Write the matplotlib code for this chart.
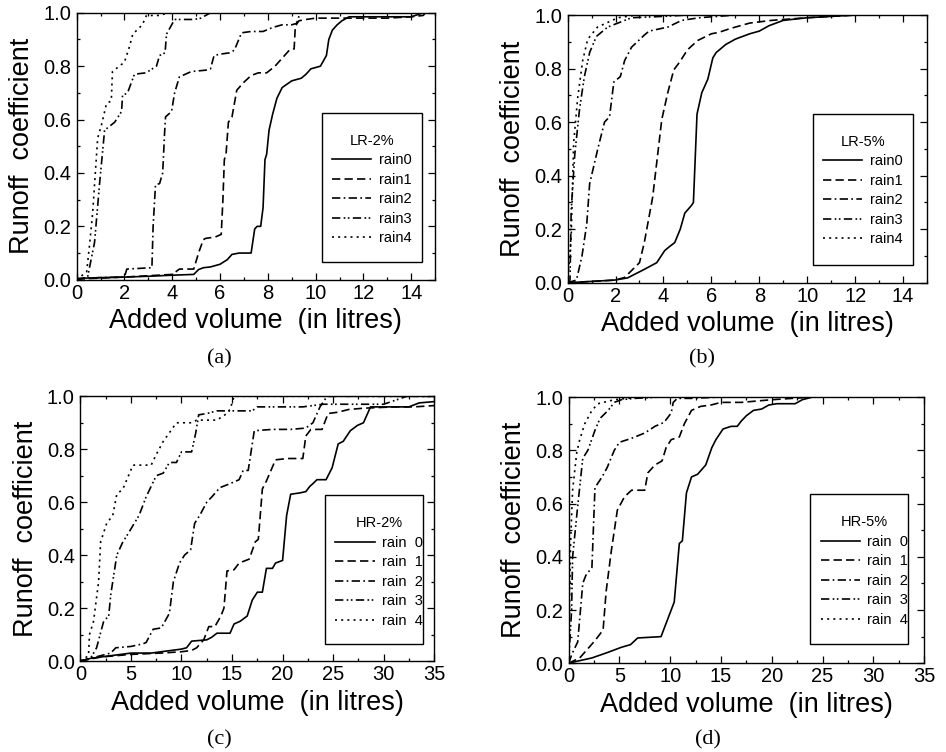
import matplotlib
matplotlib.use("Agg")
import matplotlib.pyplot as plt
from matplotlib.patches import Rectangle
from matplotlib.ticker import MultipleLocator

plt.rcParams['font.family'] = ['Liberation Sans', 'DejaVu Sans']

# ---- (a) LR-2% ----
a0_x = [0, 1, 2, 3, 4, 4.9, 5.1, 5.3, 5.6, 6.0, 6.3, 6.5, 6.8, 7.3, 7.45, 7.55, 7.7, 7.8, 7.88, 7.95, 8.05, 8.2,
        8.38, 8.6, 9.0, 9.4, 9.6, 9.8, 10.2, 10.45, 10.55, 10.7, 10.9, 11.1, 11.4, 12, 13, 14, 14.5]
a0_y = [0.005, 0.008, 0.01, 0.013, 0.017, 0.02, 0.038, 0.045, 0.048, 0.058, 0.075, 0.095, 0.1, 0.1, 0.19, 0.2,
        0.2, 0.27, 0.45, 0.47, 0.56, 0.62, 0.68, 0.72, 0.745, 0.755, 0.77, 0.79, 0.8, 0.84, 0.9, 0.935, 0.955,
        0.97, 0.985, 0.985, 0.985, 0.985, 1.0]
a1_x = [0, 1, 2, 3, 4, 4.3, 4.9, 5.1, 5.3, 5.4, 5.8, 6.05, 6.12, 6.18, 6.25, 6.35, 6.5, 6.7, 7.0, 7.3, 7.6, 7.95,
        8.3, 8.6, 8.9, 9.1, 9.15, 9.3, 9.6, 10, 11, 12, 13, 14, 14.5, 14.6]
a1_y = [0.003, 0.006, 0.01, 0.015, 0.02, 0.04, 0.04, 0.1, 0.15, 0.155, 0.16, 0.17, 0.3, 0.45, 0.47, 0.59, 0.61,
        0.71, 0.74, 0.765, 0.775, 0.775, 0.8, 0.83, 0.86, 0.865, 0.95, 0.97, 0.975, 0.98, 0.98, 0.98, 0.98,
        0.985, 0.99, 1.0]
a2_x = [0, 1, 2, 2.1, 2.5, 3.15, 3.2, 3.3, 3.47, 3.6, 3.68, 3.72, 3.97, 4.1, 4.3, 4.8, 5.4, 5.6, 5.75, 6.0,
        6.4, 6.6, 6.9, 7.3, 7.8, 8.2, 8.6, 9.0, 9.2, 9.35, 10, 15]
a2_y = [0.003, 0.008, 0.01, 0.04, 0.042, 0.045, 0.2, 0.356, 0.36, 0.4, 0.55, 0.61, 0.63, 0.70, 0.76, 0.78,
        0.785, 0.79, 0.84, 0.845, 0.85, 0.86, 0.925, 0.93, 0.93, 0.945, 0.955, 0.955, 0.96, 1.0, 1.0, 1.0]
a3_x = [0, 0.46, 0.75, 0.96, 1.17, 1.59, 1.88, 1.92, 2.13, 2.42, 2.9, 3.34, 3.47, 3.7, 3.76, 4.1, 4.9, 5.2,
        5.6, 15]
a3_y = [0.0, 0.01, 0.14, 0.36, 0.56, 0.59, 0.63, 0.69, 0.70, 0.77, 0.775, 0.80, 0.84, 0.85, 0.92, 0.975,
        0.975, 0.98, 1.0, 1.0]
a4_x = [0, 0.42, 0.54, 0.67, 0.88, 1.04, 1.25, 1.45, 1.5, 2.0, 2.2, 2.35, 2.75, 2.92, 3.5, 3.8, 15]
a4_y = [0.0, 0.03, 0.13, 0.25, 0.53, 0.58, 0.66, 0.67, 0.78, 0.815, 0.87, 0.92, 0.955, 0.99, 0.99, 1.0, 1.0]

# ---- (b) LR-5% ----
b0_x = [0, 1, 1.96, 2.5, 3.2, 3.72, 4.05, 4.25, 4.47, 4.7, 4.89, 5.18, 5.25, 5.4, 5.6, 5.85, 6.06, 6.2, 6.6,
        7.0, 7.6, 8.0, 8.4, 9.0, 10, 12, 15]
b0_y = [0.0, 0.005, 0.01, 0.018, 0.05, 0.075, 0.12, 0.135, 0.15, 0.2, 0.26, 0.29, 0.30, 0.63, 0.71, 0.76,
        0.84, 0.86, 0.89, 0.91, 0.93, 0.94, 0.96, 0.98, 0.99, 1.0, 1.0]
b1_x = [0, 1, 2.0, 2.38, 3.0, 3.2, 3.55, 3.93, 4.18, 4.43, 4.68, 5.0, 5.43, 6.0, 6.3, 6.8, 7.6, 8.5, 10, 12, 15]
b1_y = [0.0, 0.005, 0.01, 0.02, 0.075, 0.15, 0.32, 0.61, 0.71, 0.795, 0.825, 0.87, 0.905, 0.93, 0.935,
        0.95, 0.97, 0.98, 0.99, 1.0, 1.0]
b2_x = [0, 0.37, 0.6, 0.8, 0.92, 1.26, 1.54, 1.75, 1.93, 2.2, 2.38, 2.67, 3.2, 3.4, 4.18, 4.76, 5.5, 7, 15]
b2_y = [0.0, 0.01, 0.1, 0.22, 0.37, 0.50, 0.60, 0.62, 0.75, 0.77, 0.83, 0.88, 0.925, 0.94, 0.955, 0.98,
        0.99, 1.0, 1.0]
b3_x = [0, 0.1, 0.15, 0.3, 0.5, 0.7, 0.92, 1.2, 1.67, 2.67, 4, 5, 15]
b3_y = [0.0, 0.01, 0.27, 0.48, 0.65, 0.77, 0.86, 0.92, 0.955, 0.99, 0.995, 1.0, 1.0]
b4_x = [0, 0.15, 0.25, 0.42, 0.63, 0.84, 1.25, 2.1, 2.9, 15]
b4_y = [0.0, 0.17, 0.52, 0.69, 0.83, 0.91, 0.955, 0.99, 1.0, 1.0]

# ---- (c) HR-2% ----
c0_x = [0, 1, 3, 5, 7, 9, 10, 10.5, 11, 12.5, 13, 13.5, 14.8, 15.2, 15.8, 16.5, 17, 17.5, 18, 18.4, 19, 19.3,
        20.0, 20.4, 20.8, 21.7, 22.3, 22.7, 23, 23.4, 24.3, 24.9, 25.5, 26, 26.7, 27.4, 28, 28.7, 31, 32.5,
        33.5, 35]
c0_y = [0.0, 0.01, 0.02, 0.03, 0.03, 0.04, 0.045, 0.05, 0.075, 0.08, 0.09, 0.105, 0.105, 0.14, 0.15, 0.17,
        0.23, 0.26, 0.26, 0.35, 0.35, 0.37, 0.38, 0.55, 0.63, 0.635, 0.64, 0.66, 0.67, 0.685, 0.685, 0.73,
        0.82, 0.83, 0.87, 0.89, 0.9, 0.96, 0.96, 0.96, 0.975, 0.98]
c1_x = [0, 2, 5, 8, 10, 11, 11.5, 12.2, 12.7, 13.3, 13.9, 14.2, 14.5, 15.2, 15.7, 16.7, 17.3, 17.6, 18.0,
        18.4, 19.3, 20.5, 22, 22.3, 22.8, 23.9, 24.5, 25.5, 26.5, 28, 31, 33, 35]
c1_y = [0.0, 0.015, 0.025, 0.03, 0.035, 0.04, 0.05, 0.08, 0.13, 0.13, 0.17, 0.2, 0.34, 0.345, 0.37, 0.385,
        0.45, 0.46, 0.65, 0.68, 0.76, 0.765, 0.765, 0.85, 0.875, 0.875, 0.935, 0.94, 0.95, 0.955, 0.96,
        0.96, 0.965]
c2_x = [0, 2, 3, 3.5, 5, 6.2, 6.5, 7.2, 8, 8.8, 9.2, 9.8, 10.3, 10.9, 11.3, 11.8, 12.5, 13, 13.8, 14.8, 15.7,
        16.1, 16.6, 17.2, 19, 20.8, 22.3, 23, 23.7, 24.4, 35]
c2_y = [0.0, 0.02, 0.03, 0.05, 0.055, 0.065, 0.07, 0.12, 0.125, 0.18, 0.3, 0.37, 0.4, 0.42, 0.52, 0.55,
        0.6, 0.62, 0.655, 0.67, 0.685, 0.72, 0.72, 0.87, 0.875, 0.875, 0.88, 0.9, 0.96, 1.0, 1.0]
c3_x = [0, 1, 1.6, 2.3, 2.8, 3.0, 3.6, 4.2, 4.7, 5.8, 6.5, 7.5, 8.2, 8.8, 9.5, 10, 11, 11.4, 11.7, 12.5,
        13.5, 17, 17.5, 22, 24, 30, 32.3, 35]
c3_y = [0.0, 0.01, 0.05, 0.15, 0.17, 0.25, 0.4, 0.45, 0.48, 0.55, 0.62, 0.7, 0.71, 0.75, 0.75, 0.79, 0.79,
        0.86, 0.93, 0.935, 0.945, 0.945, 0.96, 0.96, 0.97, 0.97, 1.0, 1.0]
c4_x = [0, 0.8, 0.9, 1.3, 1.8, 2.0, 2.6, 3.2, 3.6, 4.2, 5.2, 7, 7.5, 8.2, 9.5, 11, 11.5, 13.5, 14.3, 14.8,
        15.2, 35]
c4_y = [0.0, 0.02, 0.1, 0.15, 0.3, 0.45, 0.52, 0.55, 0.63, 0.65, 0.74, 0.74, 0.78, 0.83, 0.9, 0.9, 0.91,
        0.91, 0.93, 0.95, 1.0, 1.0]

# ---- (d) HR-5% ----
d0_x = [0, 0.3, 2.3, 3.8, 5.2, 6.1, 6.8, 9.1, 9.6, 10.1, 10.4, 10.9, 11.2, 11.6, 12.1, 12.7, 13.5, 14.1,
        14.5, 15.2, 16, 16.6, 17, 17.5, 18.2, 19, 19.7, 20.5, 22.3, 23, 24, 35]
d0_y = [0.0, 0.003, 0.02, 0.04, 0.06, 0.07, 0.095, 0.1, 0.15, 0.2, 0.23, 0.45, 0.46, 0.64, 0.70, 0.71,
        0.745, 0.81, 0.84, 0.88, 0.89, 0.89, 0.91, 0.93, 0.95, 0.955, 0.97, 0.975, 0.975, 0.99, 1.0, 1.0]
d1_x = [0, 1.1, 2.6, 3.4, 3.7, 4.2, 4.8, 5.5, 6.2, 7.5, 7.8, 8.5, 9.2, 9.6, 10.1, 10.9, 11.4, 12.1, 13, 14,
        15, 17, 20, 24, 35]
d1_y = [0.0, 0.02, 0.085, 0.125, 0.27, 0.42, 0.575, 0.625, 0.65, 0.65, 0.715, 0.745, 0.76, 0.81, 0.84,
        0.85, 0.9, 0.95, 0.965, 0.97, 0.98, 0.98, 0.99, 1.0, 1.0]
d2_x = [0, 0.4, 0.9, 1.4, 1.7, 2.3, 2.6, 3.3, 3.8, 4.5, 5.0, 6.2, 7.5, 8.5, 9.4, 10.1, 10.3, 10.7, 12, 15, 35]
d2_y = [0.0, 0.04, 0.08, 0.30, 0.33, 0.36, 0.66, 0.7, 0.735, 0.80, 0.83, 0.845, 0.865, 0.89, 0.905, 0.94,
        0.98, 0.995, 0.995, 1.0, 1.0]
d3_x = [0, 0.3, 0.4, 0.9, 1.4, 1.9, 2.6, 3.1, 3.9, 4.5, 5.2, 6.5, 9, 35]
d3_y = [0.0, 0.2, 0.4, 0.59, 0.77, 0.80, 0.875, 0.92, 0.95, 0.98, 0.99, 0.995, 1.0, 1.0]
d4_x = [0, 0.2, 0.4, 0.8, 1.1, 1.6, 2.3, 2.9, 4.5, 7, 35]
d4_y = [0.0, 0.45, 0.65, 0.79, 0.84, 0.9, 0.95, 0.975, 0.99, 1.0, 1.0]

dash_styles = ['-', (0, (5, 2.5)), (0, (5, 2, 1, 2)), (0, (5, 2, 1, 1.5, 1, 2)), (0, (1.2, 2.5))]

panels = [
    dict(pos=[0.081, 0.628, 0.379, 0.355], xmax=15, xmaj=2, xmin=1, title='LR-2%', lab='rain{}',
         box=(0.684, 0.067, 0.28, 0.558), letter='(a)', lx=0.232, ly=0.510,
         curves=[(a0_x, a0_y), (a1_x, a1_y), (a2_x, a2_y), (a3_x, a3_y), (a4_x, a4_y)]),
    dict(pos=[0.600, 0.624, 0.380, 0.356], xmax=15, xmaj=2, xmin=1, title='LR-5%', lab='rain{}',
         box=(0.682, 0.067, 0.279, 0.564), letter='(b)', lx=0.742, ly=0.510,
         curves=[(b0_x, b0_y), (b1_x, b1_y), (b2_x, b2_y), (b3_x, b3_y), (b4_x, b4_y)]),
    dict(pos=[0.085, 0.121, 0.374, 0.352], xmax=35, xmaj=5, xmin=2.5, title='HR-2%', lab='rain  {}',
         box=(0.692, 0.064, 0.277, 0.562), letter='(c)', lx=0.232, ly=0.004,
         curves=[(c0_x, c0_y), (c1_x, c1_y), (c2_x, c2_y), (c3_x, c3_y), (c4_x, c4_y)]),
    dict(pos=[0.601, 0.118, 0.376, 0.354], xmax=35, xmaj=5, xmin=2.5, title='HR-5%', lab='rain  {}',
         box=(0.680, 0.071, 0.275, 0.564), letter='(d)', lx=0.748, ly=0.004,
         curves=[(d0_x, d0_y), (d1_x, d1_y), (d2_x, d2_y), (d3_x, d3_y), (d4_x, d4_y)]),
]

fig = plt.figure(figsize=(9.46, 7.52), dpi=100)

for p in panels:
    ax = fig.add_axes(p['pos'])
    for i, (xs, ys) in enumerate(p['curves']):
        ax.plot(xs, ys, color='black', lw=1.2, linestyle=dash_styles[i], label=p['lab'].format(i))
    ax.set_xlim(0, p['xmax'])
    ax.set_ylim(0, 1.0)
    ax.xaxis.set_major_locator(MultipleLocator(p['xmaj']))
    ax.xaxis.set_minor_locator(MultipleLocator(p['xmin']))
    ax.yaxis.set_major_locator(MultipleLocator(0.2))
    ax.yaxis.set_minor_locator(MultipleLocator(0.1))
    ax.yaxis.set_major_formatter(plt.FormatStrFormatter('%.1f'))
    ax.tick_params(which='both', direction='in', top=True, right=True, width=0.9)
    ax.tick_params(which='major', length=5, labelsize=14.5)
    ax.tick_params(which='minor', length=2.5)
    ax.tick_params(axis='x', pad=3)
    ax.tick_params(axis='y', pad=4)
    for s in ax.spines.values():
        s.set_linewidth(1.0)
    ax.set_xlabel('Added volume  (in litres)', fontsize=19.5, labelpad=4)
    ax.set_ylabel('Runoff  coefficient', fontsize=19.5, labelpad=6)

    bx, by, bw, bh = p['box']
    ax.add_patch(Rectangle((bx, by), bw, bh, transform=ax.transAxes, fill=False,
                           edgecolor='black', lw=1.0, zorder=5))
    ax.legend(loc='upper left', bbox_to_anchor=(bx, by + bh - 0.04), frameon=False,
              title=p['title'], fontsize=10.5, title_fontsize=10.5, handlelength=2.7,
              handletextpad=0.5, labelspacing=0.38, borderpad=0.2)
    fig.text(p['lx'], p['ly'], p['letter'], ha='center', va='bottom', fontsize=16,
             family='Liberation Serif')

fig.savefig('out.png', dpi=100)
